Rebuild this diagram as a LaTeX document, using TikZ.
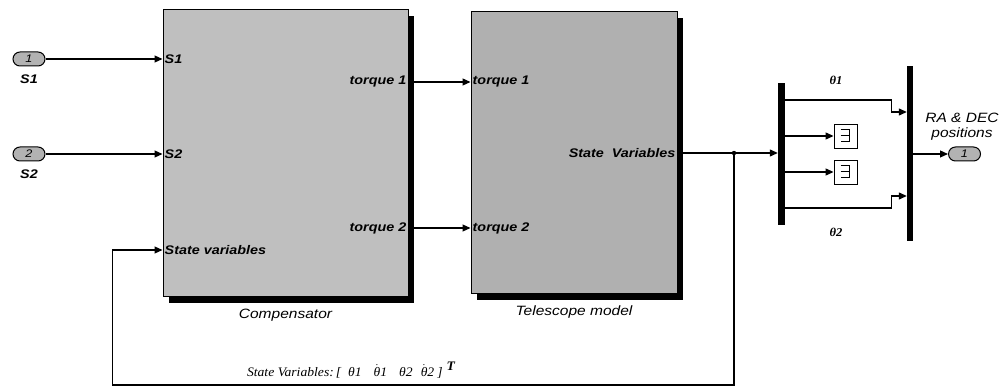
\documentclass[tikz,border=0pt]{standalone}
\usepackage{fontspec}
\usepackage{tikz}
\usetikzlibrary{arrows.meta,positioning,shadows}
\newfontfamily\simfont{Liberation Sans}[FakeStretch=1.15]
\newfontfamily\eqfont{Liberation Serif}[FakeStretch=1.05]
\newcommand{\thdot}[1]{$\dot{\mbox{θ}}$#1}

\begin{document}
\begin{tikzpicture}[x=1pt, y=-1pt, >={Triangle[length=8pt,width=7pt]},
      sig/.style={->, line width=1.2pt},
      block/.style={draw, line width=1pt, rectangle, inner sep=0pt,
        drop shadow={shadow xshift=6pt, shadow yshift=-6pt, opacity=1, fill=black}},
      port/.style={draw, line width=1pt, rounded corners=7pt, fill=gray!60, minimum width=32pt, minimum height=14pt,
        inner sep=0pt, font=\simfont\itshape\fontsize{11}{12}\selectfont},
      lbl/.style={inner sep=2pt, font=\simfont\bfseries\itshape\fontsize{12.5}{14}\selectfont},
      captxt/.style={inner sep=1pt, font=\simfont\itshape\fontsize{13.5}{15}\selectfont},
      thlbl/.style={inner sep=1pt, font=\eqfont\bfseries\itshape\fontsize{12}{14}\selectfont},
      bar/.style={fill=black, inner sep=0pt, minimum width=7pt},
      term/.style={draw, line width=0.9pt, fill=white, minimum width=23pt, minimum height=24pt, inner sep=0pt}]
    \useasboundingbox (0,0) rectangle (1004,387);

    % the two subsystems
    \node[block, fill=gray!50, minimum width=245pt, minimum height=287pt] (comp) at (285.5,153.5) {};
    \node[block, fill=gray!62, minimum width=206pt, minimum height=282pt] (tel) at (574,153) {};
    \node[captxt, below=10pt of comp] (compcap) {Compensator};
    \node[captxt, below=10pt of tel] (telcap) {Telescope model};

    % port labels
    \node[lbl, anchor=west] (cs1) at (comp.west |- 0,59) {S1};
    \node[lbl, anchor=west] (cs2) at (comp.west |- 0,154) {S2};
    \node[lbl, anchor=west] (csv) at (comp.west |- 0,250) {State variables};
    \node[lbl, anchor=east] (ct1) at (comp.east |- 0,82) {torque 1};
    \node[lbl, anchor=east] (ct2) at (comp.east |- 0,228) {torque 2};
    \node[lbl, anchor=west] (tt1) at (tel.west |- 0,82) {torque 1};
    \node[lbl, anchor=west] (tt2) at (tel.west |- 0,228) {torque 2};
    \node[lbl, anchor=east] (tsv) at (tel.east |- 0,153) {State\ \ Variables};

    % inports
    \node[port] (in1) at (29,59) {1};
    \node[lbl, below=6pt of in1] (in1lbl) {S1};
    \node[port] (in2) at (29,154) {2};
    \node[lbl, below=6pt of in2] (in2lbl) {S2};

    \draw[sig] (in1) -- (cs1.west);
    \draw[sig] (in2) -- (cs2.west);
    \draw[sig] (ct1.east) -- (tt1.west);
    \draw[sig] (ct2.east) -- (tt2.west);

    % demux, terminators, mux
    \node[bar, minimum height=142pt] (demux) at (781.5,154) {};
    \node[bar, minimum width=6pt, minimum height=175pt] (mux) at (910,154) {};
    \coordinate (br) at (tsv.east -| 734,0);

    \draw[sig] (tsv.east) -- (tsv.east -| demux.west);
    \fill (br) circle (2.2pt);
    \draw[sig] (br) -- ++(0,232) -| ([xshift=-50pt]csv.west) -- (csv.west);

    \foreach \t/\y in {term1/136, term2/172} {
      \node[term] (\t) at (845.5,\y) {};
      \draw[line width=1pt] ([xshift=-5pt,yshift=6pt]\t.center) -- ([xshift=4pt,yshift=6pt]\t.center)
        -- ([xshift=4pt,yshift=-6pt]\t.center) -- ([xshift=-5pt,yshift=-6pt]\t.center)
        ([xshift=-5pt]\t.center) -- ([xshift=4pt]\t.center);
      \draw[sig] (demux.east |- \t) -- (\t.west);
    }
    \draw[sig] (demux.east |- 0,100) -| ([xshift=-15pt]mux.west |- 0,112) -- (mux.west |- 0,112);
    \draw[sig] (demux.east |- 0,208) -| ([xshift=-15pt]mux.west |- 0,196) -- (mux.west |- 0,196);
    \node[thlbl] (th1) at (836,80) {θ1};
    \node[thlbl] (th2) at (836,232) {θ2};

    % outport
    \node[port] (out1) at (964.5,154) {1};
    \node[captxt, align=center] (outlbl) at (962,127) {RA \& DEC\\positions};
    \draw[sig] (mux.east |- out1) -- (out1.west);

    \node[inner sep=0pt, font=\eqfont\itshape\fontsize{13}{15}\selectfont] (svlbl) at (351,370)
      {State Variables:\hspace{2pt}[\hspace{7pt}θ1\hspace{12pt}\thdot1\hspace{12pt}θ2\hspace{8pt}\thdot2\hspace{3pt}]\hspace{4pt}\raisebox{1.1ex}{\bfseries T}};
  \end{tikzpicture}
\end{document}
